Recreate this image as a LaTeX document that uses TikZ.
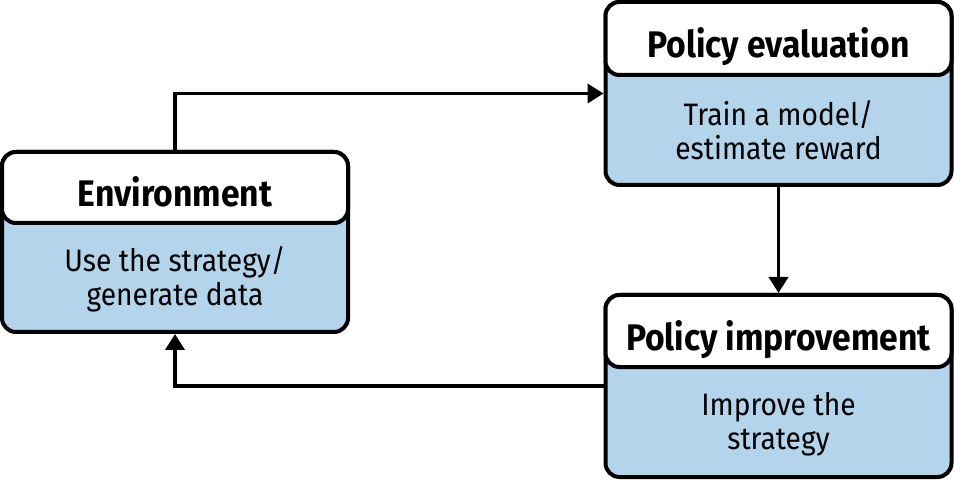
\documentclass[tikz,border=0pt]{standalone}
\usepackage{fontspec}
\setmainfont{Fira Sans}[FakeStretch=0.91]
\usetikzlibrary{arrows.meta}
\definecolor{bodyblue}{RGB}{179,212,234}
\begin{document}
\begin{tikzpicture}[x=1pt,y=-1pt,
  outerbox/.style={draw,line width=4pt,rounded corners=14pt,fill=bodyblue,minimum width=346pt,inner sep=0pt},
  headbox/.style={draw,line width=4pt,rounded corners=14pt,fill=white,minimum width=346pt,inner sep=0pt,text height=38pt,text depth=0pt,font=\fontsize{37}{42}\selectfont\bfseries},
  bodytext/.style={align=center,font=\fontsize{31}{34}\selectfont},
  link/.style={line width=3.8pt,-{Triangle[length=16pt,width=19pt]}}]
\useasboundingbox (0,0) rectangle (954,481);
\node[outerbox,minimum height=180pt] (env) at (175,242) {};
\node[headbox,minimum height=71pt,anchor=north] (envhead) at (env.north) {Environment};
\node[bodytext] (envbody) at (175,279) {Use the strategy/\\generate data};
\node[outerbox,minimum height=183pt] (pe) at (778.5,93.5) {};
\node[headbox,minimum height=73pt,anchor=north] (pehead) at (pe.north) {Policy evaluation};
\node[bodytext] (pebody) at (778.5,130) {Train a model/\\estimate reward};
\node[outerbox,minimum height=182pt] (pi) at (778.5,386) {};
\node[headbox,minimum height=72pt,anchor=north] (pihead) at (pi.north) {Policy improvement};
\node[bodytext] (pibody) at (778.5,424) {Improve the\\strategy};
\draw[link] (env.north) |- (pe.west);
\draw[link] (pe.south) -- (pihead.north);
\draw[link] (pi.west) -| (env.south);
\end{tikzpicture}
\end{document}
